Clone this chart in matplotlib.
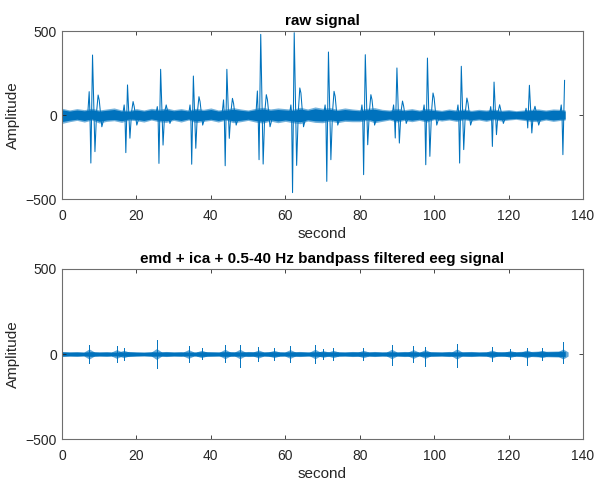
import numpy as np
import matplotlib
matplotlib.use("Agg")
import matplotlib.pyplot as plt

plt.rcParams['font.family'] = ['Liberation Sans', 'DejaVu Sans']

T_END = 135.2

# ---- raw signal: background band envelope (read every 2 s) ----
band_t = list(range(0, 135, 2)) + [T_END]
raw_upper = [40, 30, 38, 32, 40, 30, 36, 42, 30, 28,
             38, 30, 40, 34, 42, 32, 38, 30, 40, 34,
             42, 30, 36, 44, 36, 30, 40, 46, 36, 42,
             38, 34, 46, 36, 48, 40, 44, 34, 42, 36,
             32, 40, 44, 34, 30, 40, 32, 38, 30, 40,
             34, 28, 36, 30, 36, 28, 34, 30, 36, 28,
             32, 26, 30, 34, 36, 30, 36, 34, 30]
raw_lower = [-50, -40, -32, -42, -30, -48, -38, -34, -44, -30,
             -34, -42, -30, -40, -44, -32, -42, -30, -46, -38,
             -32, -42, -30, -46, -40, -32, -42, -48, -36, -46,
             -38, -46, -52, -36, -44, -46, -36, -46, -38, -40,
             -40, -32, -46, -38, -30, -42, -32, -40, -32, -42,
             -28, -36, -30, -38, -28, -36, -30, -38, -28, -36,
             -30, -26, -32, -38, -40, -30, -38, -32, -30]

# ---- raw signal: spike complexes ----
spike_t  = [8.2, 17.6, 26.5, 35.3, 44.3, 53.4, 62.4, 71.6, 81.5, 90.0, 98.2, 107.3, 116.1, 125.6, 135.05]
pre_pos  = [139, 60, 50, 60, 90, 143, 60, 60, 60, 60, 60, 60, 50, 40, 60]
pre_dip  = [-286, -224, -288, -293, -302, -266, -462, -395, -355, -137, -296, -286, -187, -77, -236]
peak     = [357, 179, 272, 232, 272, 480, 490, 375, 359, 280, 339, 290, 196, 177, 206]
post_dip = [-218, -138, -179, -198, -139, -292, -300, -266, -177, -167, -246, -206, -117, -107, -150]
bump     = [119, 80, 60, 109, 99, 121, 161, 141, 121, 83, 131, 101, 61, 52, 60]
trough   = [-70, -60, -50, -60, -60, -70, -70, -60, -60, -50, -60, -60, -50, -60, -50]

# ---- filtered signal: background band and bursts ----
filt_upper = [15, 13, 14, 12, 15, 13, 14, 12, 13, 15,
              13, 12, 14, 13, 15, 13, 14, 12, 13, 15,
              14, 13, 15, 14, 13, 15, 14, 13, 15, 14,
              13, 14, 15, 13, 14, 15, 13, 14, 13, 15,
              14, 13, 15, 13, 14, 13, 15, 14, 13, 15,
              14, 13, 15, 13, 14, 15, 13, 14, 15, 14,
              15, 14, 16, 15, 17, 16, 17, 18, 17]
filt_lower = [-15, -13, -14, -12, -15, -13, -14, -12, -13, -15,
              -13, -12, -14, -13, -15, -13, -14, -12, -13, -15,
              -14, -13, -15, -14, -13, -15, -14, -13, -15, -14,
              -13, -14, -15, -13, -14, -15, -13, -14, -13, -15,
              -14, -13, -15, -13, -14, -13, -15, -14, -13, -15,
              -14, -13, -15, -13, -14, -15, -13, -14, -15, -14,
              -15, -14, -16, -15, -17, -16, -17, -18, -17]
burst_t  = [7.3, 14.7, 16.6, 25.4, 34.0, 37.5, 43.8, 47.8, 52.8, 57.0, 61.3, 68.0,
            70.2, 72.9, 81.0, 88.6, 94.4, 97.6, 106.1, 115.5, 120.5, 124.9, 129.0, 134.6]
burst_hi = [55, 45, 35, 82, 45, 35, 55, 55, 40, 35, 45, 55,
            30, 35, 35, 55, 45, 43, 59, 40, 30, 35, 35, 69]
burst_lo = [-55, -45, -35, -82, -45, -30, -45, -78, -40, -35, -45, -55,
            -30, -35, -35, -63, -45, -69, -78, -40, -30, -63, -35, -50]
burst_core = [30, 26, 22, 32, 26, 22, 28, 28, 24, 22, 26, 28,
              20, 22, 22, 28, 26, 26, 30, 24, 20, 24, 22, 30]

C = '#0072BD'
fig = plt.figure(figsize=(5.98, 4.8), dpi=100)
ax1 = fig.add_axes([0.1037, 0.5854, 0.8712, 0.35])
ax2 = fig.add_axes([0.1037, 0.0854, 0.8712, 0.3542])

# raw: soft-edged noise band + spike complexes
ax1.fill_between(band_t, raw_lower, raw_upper, color=C, lw=0, alpha=0.55)
ax1.fill_between(band_t, np.array(raw_lower) * 0.78, np.array(raw_upper) * 0.78,
                 color=C, lw=0)
for i in range(len(spike_t)):
    t0 = spike_t[i]
    ts = np.array([t0 - 1.3, t0 - 0.9, t0 - 0.7, t0 - 0.45, t0, t0 + 0.65,
                   t0 + 1.1, t0 + 1.5, t0 + 1.8, t0 + 2.5, t0 + 3.3])
    vs = np.array([0, pre_pos[i], 10, pre_dip[i], peak[i], post_dip[i],
                   20, bump[i], bump[i] - 30, trough[i], 0])
    keep = ts <= T_END
    ax1.plot(ts[keep], vs[keep], color=C, lw=0.75)

# filtered: soft-edged band + tapered bursts
ax2.fill_between(band_t, filt_lower, filt_upper, color=C, lw=0, alpha=0.6)
ax2.fill_between(band_t, np.array(filt_lower) * 0.8, np.array(filt_upper) * 0.8,
                 color=C, lw=0)
for i in range(len(burst_t)):
    t0 = burst_t[i]
    c = burst_core[i]
    ax2.fill_between([t0 - 1.4, t0, t0 + 1.4], [-12, -c, -12], [12, c, 12],
                     color=C, lw=0, alpha=0.6)
    ax2.plot([t0, t0], [burst_lo[i], burst_hi[i]], color=C, lw=0.7)


def style(ax, title):
    ax.set_xlim(0, 140)
    ax.set_ylim(-500, 500)
    ax.set_xticks(range(0, 141, 20))
    ax.set_yticks([-500, 0, 500])
    ax.tick_params(direction='in', top=True, right=True, length=3, width=0.6,
                   colors='#262626', labelsize=10)
    ax.tick_params(axis='x', pad=7)
    ax.tick_params(axis='y', pad=3.5)
    for s in ax.spines.values():
        s.set_color('#6e6e6e')
        s.set_linewidth(0.8)
    ax.set_title(title, fontsize=11, fontweight='bold', pad=4, color='black')
    ax.set_xlabel('second', fontsize=11, color='#262626', labelpad=3)
    ax.set_ylabel('Amplitude', fontsize=11, color='#262626')


style(ax1, 'raw signal')
style(ax2, 'emd + ica + 0.5-40 Hz bandpass filtered eeg signal')

fig.savefig('out.png', dpi=100)
